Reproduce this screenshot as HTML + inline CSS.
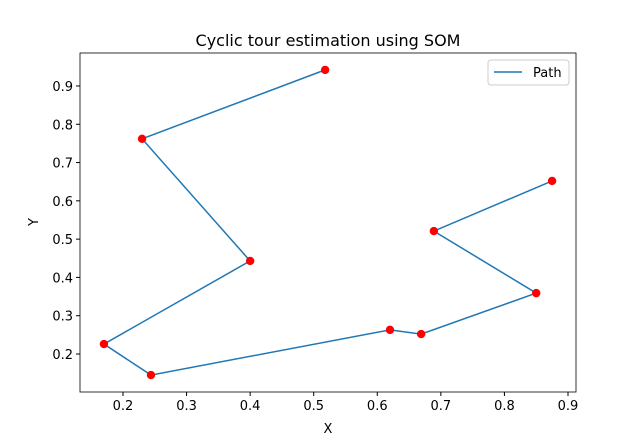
<!DOCTYPE html>
<html><head><meta charset="utf-8"><style>
body{margin:0;background:#fff}
svg{font-family:"DejaVu Sans","Liberation Sans",sans-serif}
</style></head><body>
<svg id="c" width="640" height="441" viewBox="0 0 640 441">
<rect x="0" y="0" width="640" height="441" fill="#fff"/>
<text x="328" y="46" text-anchor="middle" font-size="16">Cyclic tour estimation using SOM</text>
<g id="axes"></g>
<text x="328" y="433" text-anchor="middle" font-size="13">X</text>
<text x="38" y="222" text-anchor="middle" font-size="13" transform="rotate(-90 38 222)">Y</text>
<g>
<rect x="488" y="60" width="81" height="25" rx="3" fill="#fff" stroke="#ccc"/>
<line x1="494" y1="72" x2="522" y2="72" stroke="#1f77b4" stroke-width="1.5"/>
<text x="533" y="77" font-size="13">Path</text>
</g>
</svg>
<script>
const xs=[0.518,0.230,0.400,0.170,0.244,0.620,0.669,0.850,0.689,0.875];
const ys=[0.942,0.762,0.443,0.226,0.145,0.263,0.252,0.359,0.521,0.652];
const xTicks=[0.2,0.3,0.4,0.5,0.6,0.7,0.8,0.9];
const yTicks=[0.2,0.3,0.4,0.5,0.6,0.7,0.8,0.9];
const L=80,R=576,T=53,B=392;
const sx=v=>123+(v-0.2)*635.7;
const sy=v=>354-(v-0.2)*382.9;
const NS="http://www.w3.org/2000/svg";
const g=document.getElementById('axes');
function mk(t,a){const e=document.createElementNS(NS,t);for(const k in a)e.setAttribute(k,a[k]);g.appendChild(e);return e;}
xTicks.forEach(v=>{const x=sx(v);
 const l=mk('line',{x1:x,y1:B,x2:x,y2:B+4,stroke:'#000'});
 
 
 const t=mk('text',{x:x,y:B+18,'text-anchor':'middle','font-size':13});t.textContent=v.toFixed(1);
 
 });
yTicks.forEach(v=>{const y=sy(v);
 const l=mk('line',{x1:L-4,y1:y,x2:L,y2:y,stroke:'#000'});
 
 
 const t=mk('text',{x:L-7,y:y+5,'text-anchor':'end','font-size':13});t.textContent=v.toFixed(1);
 
 });
const pl=mk('polyline',{points:xs.map((x,i)=>sx(x)+','+sy(ys[i])).join(' '),fill:'none',stroke:'#1f77b4','stroke-width':1.5});


xs.forEach((x,i)=>{const c=mk('circle',{cx:sx(x),cy:sy(ys[i]),r:4.2,fill:'red'});
 
 });
const f=mk('rect',{x:L,y:T,width:R-L,height:B-T,fill:'none',stroke:'#000','stroke-width':0.8});


</script>
</body></html>
